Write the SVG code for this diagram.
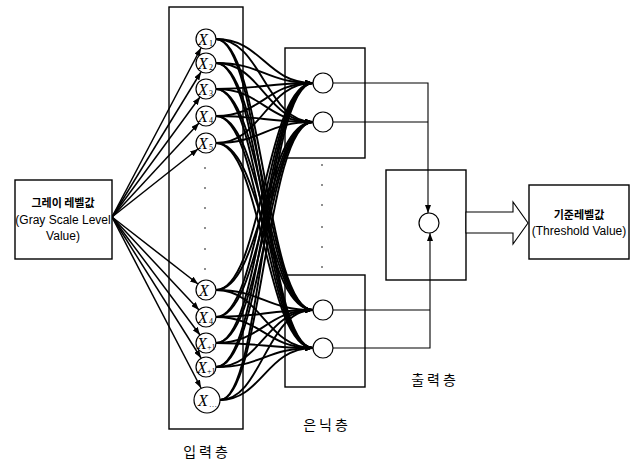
<svg xmlns="http://www.w3.org/2000/svg" width="634" height="463" viewBox="0 0 634 463">
<defs>
<style>
.box{fill:#fff;stroke:#000;stroke-width:1.4}
.node{fill:#fff;stroke:#000;stroke-width:1.2}
.thin{fill:none;stroke:#000;stroke-width:1.1}
.in{fill:none;stroke:#000;stroke-width:1.5}
.cv{fill:none;stroke:#000;stroke-width:1.9}
.x{font-family:"Liberation Serif",serif;font-style:italic;font-size:16px;fill:#000}
.sub{font-family:"Liberation Serif",serif;font-size:8px;fill:#000}
.kb{font-family:"Noto Sans CJK KR",sans-serif;font-weight:bold;font-size:11px;fill:#000}
.en{font-family:"Liberation Sans",sans-serif;font-size:12px;fill:#000}
.lab{font-family:"Noto Sans CJK KR",sans-serif;font-size:14px;letter-spacing:3px;fill:#000}
.dot{fill:#000}
</style>
<marker id="ah" markerUnits="userSpaceOnUse" markerWidth="8" markerHeight="6" refX="8" refY="3" orient="auto">
<path d="M0,0 L8,3 L0,6 z" fill="#000"/>
</marker>
</defs>
<rect width="634" height="463" fill="#fff"/>

<g id="input-layer">
<rect class="box" x="169" y="7" width="74" height="422"/>
<g class="dot">
<circle cx="205" cy="168" r="0.8"/><circle cx="205" cy="188" r="0.8"/><circle cx="205" cy="208" r="0.8"/><circle cx="205" cy="228" r="0.8"/><circle cx="205" cy="249" r="0.8"/><circle cx="205" cy="269" r="0.8"/>
</g>
</g>

<g id="hidden-top">
<rect class="box" x="285" y="48" width="80" height="110"/>
</g>
<g id="hidden-bottom">
<rect class="box" x="285" y="275" width="80" height="112"/>
</g>
<g id="hidden-dots" class="dot">
<circle cx="322" cy="165" r="0.8"/><circle cx="322" cy="185" r="0.8"/><circle cx="322" cy="205" r="0.8"/><circle cx="322" cy="227" r="0.8"/><circle cx="322" cy="247" r="0.8"/><circle cx="322" cy="267" r="0.8"/>
</g>

<g id="output-layer">
<rect class="box" x="386" y="170" width="80" height="110"/>
</g>

<g id="connectors">
<g class="in" marker-end="url(#ah)">
<path d="M112 217L201 48"/>
<path d="M112 217L201 72"/>
<path d="M112 217L200 97"/>
<path d="M112 217L199 123"/>
<path d="M112 217L198 149"/>
<path d="M112 217L198 284"/>
<path d="M112 217L199 310"/>
<path d="M112 217L200 335"/>
<path d="M112 217L201 358"/>
<path d="M112 217L201 388"/>
</g>
<g class="cv" marker-end="url(#ah)">
<path d="M216 39C262 39 266 83 313 83"/>
<path d="M216 39C262 39 266 122 313 122"/>
<path d="M216 39C262 39 266 310 313 310"/>
<path d="M216 39C262 39 266 348 313 348"/>
<path d="M216 63C262 63 266 83 313 83"/>
<path d="M216 63C262 63 266 122 313 122"/>
<path d="M216 63C262 63 266 310 313 310"/>
<path d="M216 63C262 63 266 348 313 348"/>
<path d="M216 89C262 89 266 83 313 83"/>
<path d="M216 89C262 89 266 122 313 122"/>
<path d="M216 89C262 89 266 310 313 310"/>
<path d="M216 89C262 89 266 348 313 348"/>
<path d="M216 116C262 116 266 83 313 83"/>
<path d="M216 116C262 116 266 122 313 122"/>
<path d="M216 116C262 116 266 310 313 310"/>
<path d="M216 116C262 116 266 348 313 348"/>
<path d="M216 143C262 143 266 83 313 83"/>
<path d="M216 143C262 143 266 122 313 122"/>
<path d="M216 143C262 143 266 310 313 310"/>
<path d="M216 143C262 143 266 348 313 348"/>
<path d="M216 290C262 290 266 83 313 83"/>
<path d="M216 290C262 290 266 122 313 122"/>
<path d="M216 290C262 290 266 310 313 310"/>
<path d="M216 290C262 290 266 348 313 348"/>
<path d="M216 317C262 317 266 83 313 83"/>
<path d="M216 317C262 317 266 122 313 122"/>
<path d="M216 317C262 317 266 310 313 310"/>
<path d="M216 317C262 317 266 348 313 348"/>
<path d="M216 343C262 343 266 83 313 83"/>
<path d="M216 343C262 343 266 122 313 122"/>
<path d="M216 343C262 343 266 310 313 310"/>
<path d="M216 343C262 343 266 348 313 348"/>
<path d="M216 367C262 367 266 83 313 83"/>
<path d="M216 367C262 367 266 122 313 122"/>
<path d="M216 367C262 367 266 310 313 310"/>
<path d="M216 367C262 367 266 348 313 348"/>
<path d="M220 400C262 400 266 83 313 83"/>
<path d="M220 400C262 400 266 122 313 122"/>
<path d="M220 400C262 400 266 310 313 310"/>
<path d="M220 400C262 400 266 348 313 348"/>
</g>
<path class="thin" d="M333 83H428V213" marker-end="url(#ah)"/>
<path class="thin" d="M333 122H428"/>
<path class="thin" d="M333 348H430V233" marker-end="url(#ah)"/>
<path class="thin" d="M333 310H430"/>
<polygon points="466,212 513,212 513,202 528,223 513,244 513,233 466,233" fill="#fff" stroke="#000" stroke-width="1.1"/>
</g>

<g id="gray-level">
<rect class="box" x="15" y="180" width="97" height="79"/>
<text class="kb" x="63" y="207" text-anchor="middle">그레이 레벨값</text>
<text class="en" x="63" y="224" text-anchor="middle">(Gray Scale Level</text>
<text class="en" x="63" y="240" text-anchor="middle">Value)</text>
</g>

<g id="x1"><circle class="node" cx="206" cy="39" r="10"/><text class="x" x="198" y="45">X</text><text class="sub" x="209" y="46">1</text></g>
<g id="x2"><circle class="node" cx="206" cy="63" r="10"/><text class="x" x="198" y="69">X</text><text class="sub" x="209" y="70">2</text></g>
<g id="x3"><circle class="node" cx="206" cy="89" r="10"/><text class="x" x="198" y="95">X</text><text class="sub" x="209" y="96">3</text></g>
<g id="x4"><circle class="node" cx="206" cy="116" r="10"/><text class="x" x="198" y="122">X</text><text class="sub" x="209" y="123">4</text></g>
<g id="x5"><circle class="node" cx="206" cy="143" r="10"/><text class="x" x="198" y="149">X</text><text class="sub" x="209" y="150">5</text></g>
<g id="x6"><circle class="node" cx="206" cy="290" r="10"/><text class="x" x="199" y="296">X</text></g>
<g id="x7"><circle class="node" cx="206" cy="317" r="10"/><text class="x" x="198" y="323">X</text><text class="sub" x="209" y="324">4</text></g>
<g id="x8"><circle class="node" cx="206" cy="343" r="10"/><text class="x" x="197" y="349">X</text><text class="sub" x="207" y="350">+1</text></g>
<g id="x9"><circle class="node" cx="206" cy="367" r="10"/><text class="x" x="197" y="373">X</text><text class="sub" x="207" y="374">+1</text></g>
<g id="x10"><circle class="node" cx="207" cy="400" r="13"/><text class="x" x="198" y="406">X</text><text class="sub" x="209" y="407">…</text></g>

<g id="h1"><circle class="node" cx="323" cy="83" r="10"/></g>
<g id="h2"><circle class="node" cx="323" cy="122" r="10"/></g>
<g id="h3"><circle class="node" cx="323" cy="310" r="10"/></g>
<g id="h4"><circle class="node" cx="323" cy="348" r="10"/></g>
<g id="o1"><circle class="node" cx="429" cy="223" r="10"/></g>

<g id="threshold">
<rect class="box" x="529" y="185" width="100" height="74"/>
<text class="kb" x="579" y="219" text-anchor="middle">기준레벨값</text>
<text class="en" x="579" y="235" text-anchor="middle">(Threshold Value)</text>
</g>

<g id="labels">
<text class="lab" x="207" y="457" text-anchor="middle">입력층</text>
<text class="lab" x="327" y="430" text-anchor="middle">은닉층</text>
<text class="lab" x="435" y="385" text-anchor="middle">출력층</text>
</g>
</svg>
